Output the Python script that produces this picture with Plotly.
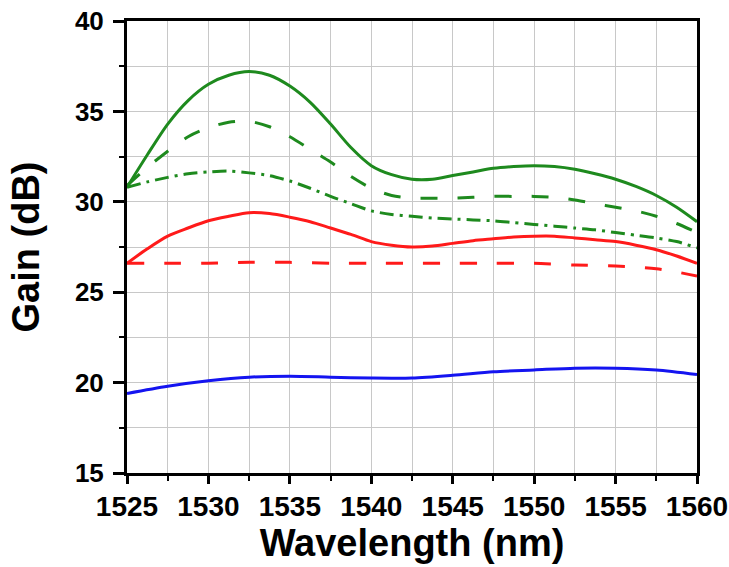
import plotly.graph_objects as go

# Wavelength grids (nm)
wl_fine = [1525, 1526.25, 1527.5, 1528.75, 1530, 1531.25, 1532.5, 1533.75, 1535,
           1536.25, 1537.5, 1538.75, 1540, 1541.25, 1542.5, 1543.75, 1545, 1546.25,
           1547.5, 1548.75, 1550, 1551.25, 1552.5, 1553.75, 1555, 1556.25, 1557.5,
           1558.75, 1560]

green_solid = [30.8, 32.6, 34.3, 35.6, 36.5, 37.0, 37.2, 37.0, 36.4,
               35.5, 34.3, 33.0, 32.0, 31.5, 31.25, 31.25, 31.45, 31.65,
               31.85, 31.95, 32.0, 31.95, 31.8, 31.55, 31.25, 30.85, 30.35,
               29.7, 28.9]

green_dash = [30.9, 31.9, 32.8, 33.6, 34.1, 34.4, 34.45, 34.15, 33.6,
              32.9, 32.2, 31.4, 30.75, 30.35, 30.2, 30.2, 30.2, 30.25,
              30.3, 30.3, 30.3, 30.25, 30.1, 29.9, 29.7, 29.5, 29.2,
              28.8, 28.3]

green_dashdot = [30.8, 31.1, 31.35, 31.55, 31.65, 31.7, 31.6, 31.45, 31.15,
                 30.75, 30.3, 29.9, 29.5, 29.3, 29.2, 29.1, 29.05, 29.0,
                 28.95, 28.85, 28.75, 28.65, 28.55, 28.45, 28.3, 28.15, 28.0,
                 27.8, 27.45]

red_solid = [26.6, 27.4, 28.1, 28.55, 28.95, 29.2, 29.4, 29.35, 29.15,
             28.9, 28.55, 28.2, 27.8, 27.6, 27.5, 27.55, 27.7, 27.85,
             27.95, 28.05, 28.1, 28.1, 28.0, 27.9, 27.8, 27.6, 27.35,
             27.0, 26.6]

wl_coarse = [1525, 1527.5, 1530, 1532.5, 1535, 1537.5, 1540, 1542.5, 1545,
             1547.5, 1550, 1552.5, 1555, 1557.5, 1560]

red_dash = [26.6, 26.6, 26.6, 26.65, 26.65, 26.6, 26.6, 26.6, 26.6,
            26.6, 26.6, 26.5, 26.45, 26.3, 25.9]

blue_solid = [19.4, 19.8, 20.1, 20.3, 20.35, 20.3, 20.25, 20.25, 20.4,
              20.6, 20.7, 20.8, 20.8, 20.7, 20.45]

x_title = "Wavelength (nm)"
y_title = "Gain (dB)"

GREEN = "#1e8a1e"
RED = "#ff1a1a"
BLUE = "#1414f0"
GRID = "#c8c8c8"
FONT = "Liberation Sans, Arial, sans-serif"

series = [
    (wl_fine, green_solid, GREEN, "solid"),
    (wl_fine, green_dash, GREEN, "17px,20px"),
    (wl_fine, green_dashdot, GREEN, "14px,6px,3px,6px"),
    (wl_fine, red_solid, RED, "solid"),
    (wl_coarse, red_dash, RED, "17px,20px"),
    (wl_coarse, blue_solid, BLUE, "solid"),
]

fig = go.Figure()
for xs, ys, col, dash in series:
    fig.add_trace(go.Scatter(x=xs, y=ys, mode="lines",
                             line=dict(color=col, width=3, dash=dash, shape="spline", smoothing=0.8),
                             hoverinfo="skip"))

axis_common = dict(
    showline=True, linecolor="black", linewidth=3, mirror=True,
    ticks="outside", tickwidth=2.5, tickcolor="black",
    showgrid=True, gridcolor=GRID, gridwidth=1, zeroline=False,
    automargin=False, ticklabeloverflow="allow",
)

fig.update_xaxes(
    range=[1525, 1560], tick0=1525, dtick=5, ticklen=8,
    tickfont=dict(family=FONT, size=28, color="black", weight="bold"),
    ticklabelstandoff=-2,
    minor=dict(dtick=2.5, ticks="outside", ticklen=5, tickwidth=2, tickcolor="black",
               showgrid=True, gridcolor=GRID, gridwidth=1),
    title=dict(text=x_title, font=dict(family=FONT, size=38, color="black", weight="bold"), standoff=6),
    **axis_common,
)
fig.update_yaxes(
    range=[15, 40], tick0=15, dtick=5, ticklen=11,
    tickfont=dict(family=FONT, size=26, color="black", weight="bold"),
    ticklabelstandoff=4,
    minor=dict(dtick=2.5, ticks="outside", ticklen=5, tickwidth=2, tickcolor="black",
               showgrid=True, gridcolor=GRID, gridwidth=1),
    title=dict(text=y_title, font=dict(family=FONT, size=38, color="black", weight="bold"), standoff=24),
    **axis_common,
)

fig.update_layout(
    width=729, height=567,
    margin=dict(l=127, r=32, t=21, b=94),
    plot_bgcolor="white", paper_bgcolor="white",
    showlegend=False,
)

# Remove the default page margin so the figure fills the window exactly.
fig.write_html("out.html", config={"displayModeBar": False},
               post_script="document.body.style.margin='0';document.body.style.overflow='hidden';")
